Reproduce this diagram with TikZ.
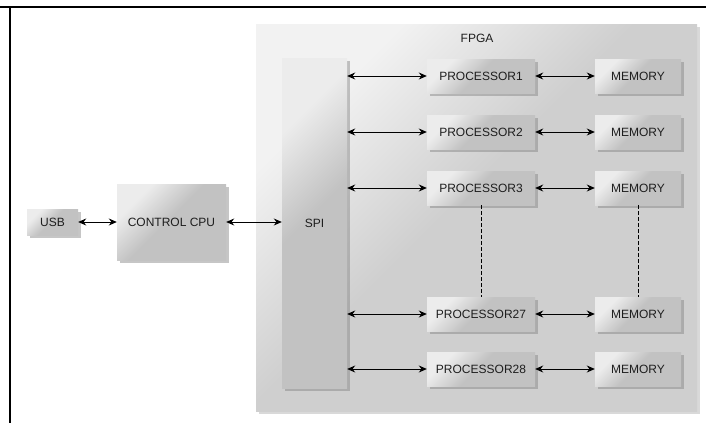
\documentclass[tikz,border=0pt]{standalone}
\usepackage{fontspec}
\setmainfont{Liberation Sans}
\usetikzlibrary{arrows.meta,shadows}
\definecolor{boxgray}{HTML}{C2C2C2}
\definecolor{boxlight}{HTML}{ECECEC}
\definecolor{fpgagray}{HTML}{CFCFCF}
\definecolor{fpgalight}{HTML}{F2F2F2}
\definecolor{labeltext}{HTML}{1E1E1E}
\pgfdeclarehorizontalshading{gloss}{100bp}{color(0bp)=(boxlight); color(28bp)=(boxlight); color(48bp)=(boxgray); color(100bp)=(boxgray)}
\pgfdeclarehorizontalshading{fpgagloss}{100bp}{color(0bp)=(fpgalight); color(27bp)=(fpgalight); color(47bp)=(fpgagray); color(100bp)=(fpgagray)}
\begin{document}
\begin{tikzpicture}[x=1pt,y=-1pt,
  blk/.style={shading=gloss, shading angle=-45,
    drop shadow={shadow xshift=2.5pt, shadow yshift=-2.5pt, opacity=0.45},
    inner sep=0pt, text=labeltext, font=\fontsize{12}{14}\selectfont},
  link/.style={{Stealth[length=8pt,width=7pt]}-{Stealth[length=8pt,width=7pt]}, line width=0.9pt}]

\useasboundingbox (0,0) rectangle (706,423);
\draw[line width=2pt] (0,7) -- (706,7);
\draw[line width=2pt] (10,7) -- (10,423);

\node [shading=fpgagloss, shading angle=-45, drop shadow={shadow xshift=2.5pt, shadow yshift=-2.5pt, opacity=0.3},
  minimum width=441pt, minimum height=387pt] (fpga) at (476.5,217.5) {};
\node [text=labeltext, font=\fontsize{12}{14}\selectfont] (fpgalabel) at (477,38) {FPGA};

\node [blk, minimum width=51pt, minimum height=26pt] (usb) at (52.5,222) {USB};
\node [blk, minimum width=109pt, minimum height=76pt] (cpu) at (171.5,222) {CONTROL CPU};
\node [blk, minimum width=65pt, minimum height=330pt] (spi) at (314.5,223) {SPI};

\node [blk, minimum width=108pt, minimum height=34pt] (p1) at (481,76) {PROCESSOR1};
\node [blk, minimum width=108pt, minimum height=34pt] (p2) at (481,132) {PROCESSOR2};
\node [blk, minimum width=108pt, minimum height=34pt] (p3) at (481,188) {PROCESSOR3};
\node [blk, minimum width=108pt, minimum height=34pt] (p27) at (481,314) {PROCESSOR27};
\node [blk, minimum width=108pt, minimum height=34pt] (p28) at (481,369) {PROCESSOR28};

\node [blk, minimum width=86pt, minimum height=34pt] (m1) at (638,76) {MEMORY};
\node [blk, minimum width=86pt, minimum height=34pt] (m2) at (638,132) {MEMORY};
\node [blk, minimum width=86pt, minimum height=34pt] (m3) at (638,188) {MEMORY};
\node [blk, minimum width=86pt, minimum height=34pt] (m27) at (638,314) {MEMORY};
\node [blk, minimum width=86pt, minimum height=34pt] (m28) at (638,369) {MEMORY};

\draw[link] (usb) -- (cpu);
\draw[link] (cpu) -- (cpu -| spi.west);
\foreach \p/\m in {p1/m1, p2/m2, p3/m3, p27/m27, p28/m28} {
  \draw[link] (spi.east |- \p.west) -- (\p.west);
  \draw[link] (\p) -- (\m);
}
\draw[dash pattern=on 4pt off 2pt, line width=0.7pt] (p3.south) -- (p27.north);
\draw[dash pattern=on 4pt off 2pt, line width=0.7pt] (m3.south) -- (m27.north);
\end{tikzpicture}
\end{document}
